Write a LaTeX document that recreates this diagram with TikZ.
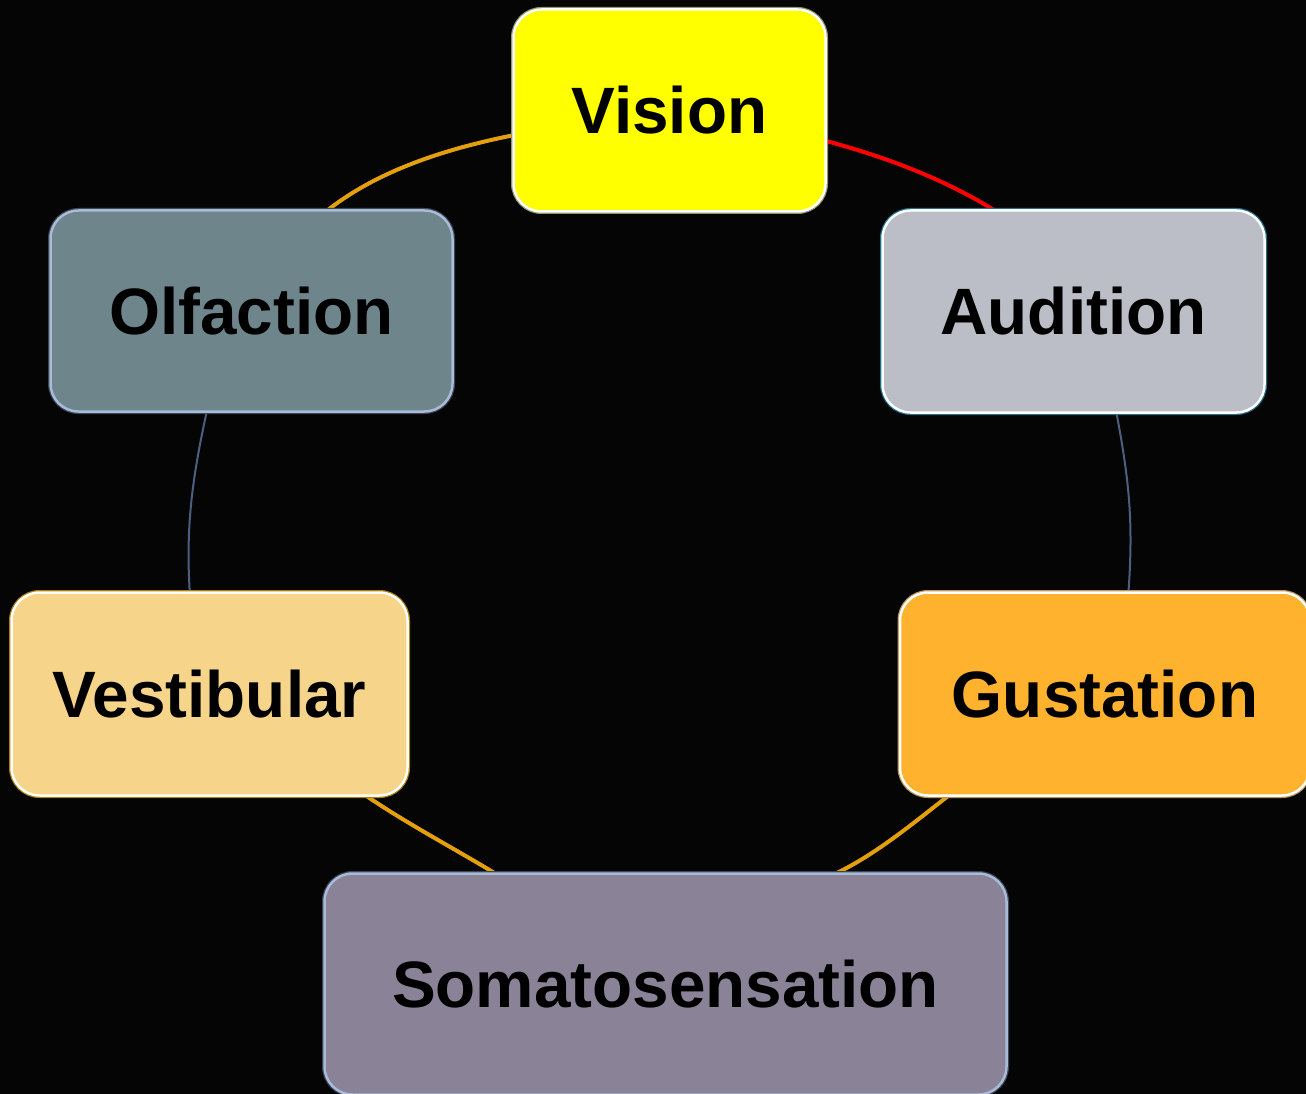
\documentclass[tikz,border=0pt]{standalone}
\usepackage{fontspec}
\setmainfont{Liberation Sans}
\pgfdeclarelayer{back}
\pgfdeclarelayer{links}
\pgfsetlayers{back,links,main}

\definecolor{bgc}{RGB}{5,5,5}
\definecolor{visionfill}{RGB}{255,255,0}
\definecolor{visionrim}{RGB}{150,150,110}
\definecolor{auditionfill}{RGB}{187,190,198}
\definecolor{auditionrim}{RGB}{30,110,140}
\definecolor{olffill}{RGB}{109,133,139}
\definecolor{bluerim}{RGB}{168,187,216}
\definecolor{darkrim}{RGB}{60,70,85}
\definecolor{vestfill}{RGB}{246,213,139}
\definecolor{vestrim}{RGB}{176,128,15}
\definecolor{gustfill}{RGB}{255,178,46}
\definecolor{gustrim}{RGB}{190,150,90}
\definecolor{somafill}{RGB}{138,131,151}
\definecolor{linkorange}{RGB}{228,160,12}
\definecolor{linkred}{RGB}{255,0,0}
\definecolor{linkslate}{RGB}{76,95,128}

\tikzset{
  sense/.style={
    rectangle, rounded corners=28pt, inner sep=0pt, outer sep=0pt,
    line width=2.5pt,
    font=\bfseries\fontsize{65.6}{70}\selectfont, text=black
  },
  rim/.style={preaction={draw=#1, line width=5pt}},
  thicklink/.style={line width=4pt},
  thinlink/.style={line width=2pt, draw=linkslate}
}

\begin{document}
\begin{tikzpicture}[x=1pt, y=-1pt]
  \clip (0,0) rectangle (1306,1094);
  \useasboundingbox (0,0) rectangle (1306,1094);
  \begin{pgfonlayer}{back}
    \fill[bgc] (0,0) rectangle (1306,1094);
  \end{pgfonlayer}

  % the six senses
  \node[sense, rim=visionrim, fill=visionfill, draw=white,
        minimum width=312pt, minimum height=202pt] (vision) at (669.5,110.5) {Vision};
  \node[sense, rim=auditionrim, fill=auditionfill, draw=white,
        minimum width=382pt, minimum height=202pt] (audition) at (1073.5,311.5) {Audition};
  \node[sense, rim=darkrim, fill=olffill, draw=bluerim,
        minimum width=402pt, minimum height=201pt] (olf) at (251.5,311) {Olfaction};
  \node[sense, rim=vestrim, fill=vestfill, draw=white,
        minimum width=396pt, minimum height=203pt] (vest) at (209.5,694) {Vestibular};
  \node[sense, rim=gustrim, fill=gustfill, draw=white,
        minimum width=410pt, minimum height=203pt] (gust) at (1105,694) {Gustation};
  \node[sense, rim=darkrim, fill=somafill, draw=bluerim,
        minimum width=682pt, minimum height=221pt] (soma) at (665.5,984) {Somatosensation};

  % curved links around the cycle
  \begin{pgfonlayer}{links}
    \draw[thicklink, linkorange] (vision.189) .. controls +(-65,13) and +(52,-41) .. (olf.53);
    \draw[thicklink, linkred] (vision.349) .. controls +(58,15.5) and +(-51,-32) .. (audition.128);
    \draw[thinlink] (audition.293) .. controls +(13,69) and +(5,-70) .. (gust.77.5);
    \draw[thicklink, linkorange] (gust.213) .. controls +(-37,29) and +(39,-18.5) .. (soma.33.5);
    \draw[thicklink, linkorange] (soma.147.5) .. controls +(-40,-24.4) and +(40,27.5) .. (vest.327.6);
    \draw[thinlink] (olf.246.3) .. controls +(-15,69) and +(-4,-65) .. (vest.101.7);
  \end{pgfonlayer}
\end{tikzpicture}
\end{document}
